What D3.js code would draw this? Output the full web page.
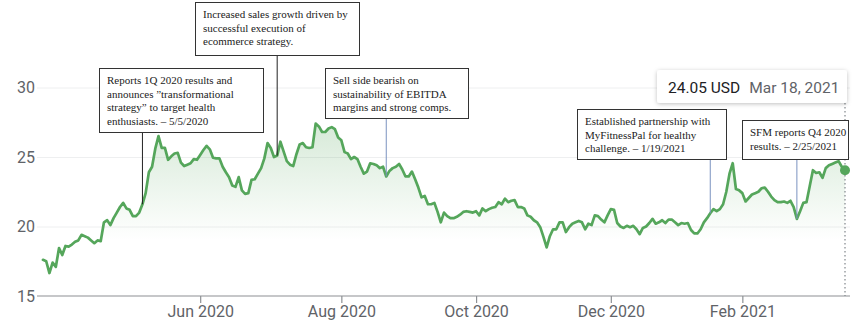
<!DOCTYPE html>
<html>
<head>
<meta charset="utf-8">
<script src="https://cdn.jsdelivr.net/npm/d3@7"></script>
<style>
  html, body { margin: 0; padding: 0; background: #fff; }
  svg { display: block; }
</style>
</head>
<body>
<div class="chart"></div>
<script>
// daily closes, one per trading day, Mar 20 2020 -> Mar 18 2021
var closes = [
  17.6, 17.5, 16.65, 17.4, 17.1, 18.45, 17.95, 18.6, 18.55, 18.7,
  18.9, 19.0, 19.4, 19.3, 19.2, 19.0, 18.8, 19.0, 18.95, 20.3,
  20.45, 20.1, 20.6, 21.0, 21.4, 21.7, 21.3, 21.2, 20.75, 20.75,
  21.0, 21.6, 22.4, 23.9, 24.3, 25.6, 26.5, 25.65, 25.65, 24.8,
  25.05, 25.25, 25.3, 24.6, 24.35, 24.45, 24.55, 24.85, 24.8, 25.15,
  25.5, 25.8, 25.55, 24.95, 24.9, 24.9, 24.3, 23.9, 23.55, 22.95,
  22.85, 23.55, 22.6, 22.35, 22.4, 23.35, 23.4, 23.8, 24.2, 24.9,
  26.0, 25.65, 25.0, 25.1, 26.1, 25.4, 24.7, 24.45, 24.35, 25.2,
  25.9, 26.0, 25.7, 25.65, 25.7, 27.4, 27.2, 26.8, 26.8, 27.05,
  27.15, 27.0, 26.4, 26.2, 25.35, 25.25, 24.85, 25.0, 24.85, 24.3,
  23.8, 23.95, 24.55, 24.5, 24.4, 24.2, 24.3, 23.6, 24.0, 24.2,
  24.3, 24.5, 24.1, 23.6, 23.6, 23.95, 23.4, 22.8, 22.1, 22.2,
  21.6, 21.6, 21.7, 21.05, 20.3, 21.0, 20.75, 20.6, 20.6, 20.7,
  20.85, 21.05, 21.1, 21.05, 21.0, 21.1, 20.8, 21.3, 21.1, 21.25,
  21.35, 21.4, 21.75, 21.6, 22.0, 21.75, 21.85, 21.9, 21.4, 21.4,
  21.3, 20.8, 20.7, 20.45, 20.3, 19.95, 19.25, 18.5, 19.3, 19.8,
  19.8, 20.3, 20.3, 19.6, 19.95, 20.2, 20.3, 20.4, 20.3, 19.8,
  20.2, 20.1, 20.8, 20.75, 20.5, 20.3, 20.8, 21.25, 21.2, 20.25,
  20.0, 19.9, 20.05, 19.95, 20.05, 19.8, 19.45, 19.9, 20.0, 20.25,
  20.55, 20.2, 20.3, 20.45, 20.25, 20.5, 20.5, 20.3, 20.1, 20.25,
  20.2, 20.25, 19.75, 19.5, 19.5, 19.8, 20.3, 20.6, 20.95, 21.25,
  21.1, 21.25, 21.6, 22.5, 23.8, 24.55, 22.7, 22.6, 22.4, 21.8,
  22.05, 22.3, 22.4, 22.5, 22.75, 22.8, 22.5, 22.15, 21.9, 21.75,
  21.75, 21.8, 21.7, 21.85, 21.4, 20.55, 21.1, 21.7, 21.75, 22.9,
  24.05, 23.85, 23.9, 23.5, 24.2, 24.4, 24.5, 24.6, 24.7, 24.3,
  24.05
];

var yTicks = [15, 20, 25, 30];
var monthTickIndex = [49, 93, 135, 177, 218];
var monthTickLabels = ["Jun 2020", "Aug 2020", "Oct 2020", "Dec 2020", "Feb 2021"];

var lastLabel = "Mar 18, 2021";
var currency = "USD";

// annotation boxes: trading-day index they point at, box corner, text lines
var notes = [
  { idx: 31, left: 99, top: 68, w: 164, h: 64, dark: true,
    lines: ["Reports 1Q 2020 results and", "announces \u201dtransformational", "strategy\u201d to target health", "enthusiasts. \u2013 5/5/2020"] },
  { idx: 73, left: 195, top: 2, w: 164, h: 53, dark: true,
    lines: ["Increased sales growth driven by", "successful execution of", "ecommerce strategy."] },
  { idx: 107, left: 325, top: 68, w: 143, h: 50, dark: false,
    lines: ["Sell side bearish on", "sustainability of EBITDA", "margins and strong comps."] },
  { idx: 208, left: 577, top: 109, w: 149, h: 50, dark: false,
    lines: ["Established partnership with", "MyFitnessPal for healthy", "challenge. \u2013 1/19/2021"] },
  { idx: 235, left: 742, top: 120, w: 106, h: 39, dark: false,
    lines: ["SFM reports Q4 2020", "results. \u2013 2/25/2021"] }
];

var W = 865, H = 322;
var green = "#55a65b";

var svg = d3.select(".chart").append("svg")
  .attr("width", W)
  .attr("height", H);

var x = d3.scaleLinear().domain([0, closes.length - 1]).range([43, 845]);
var y = d3.scaleLinear().domain([15, 30]).range([296, 87.5]);

var defs = svg.append("defs");
var grad = defs.append("linearGradient")
  .attr("id", "fillGrad")
  .attr("gradientUnits", "userSpaceOnUse")
  .attr("x1", 0).attr("x2", 0)
  .attr("y1", y(27.5)).attr("y2", y(19));
grad.append("stop").attr("offset", 0).attr("stop-color", green).attr("stop-opacity", 0.24);
grad.append("stop").attr("offset", 1).attr("stop-color", green).attr("stop-opacity", 0);

var shadow = defs.append("filter").attr("id", "shadow")
  .attr("x", "-10%").attr("y", "-30%").attr("width", "120%").attr("height", "170%");
shadow.append("feDropShadow")
  .attr("dx", 0).attr("dy", 1).attr("stdDeviation", 2)
  .attr("flood-color", "#000").attr("flood-opacity", 0.25);

// grid lines
svg.append("g")
  .attr("transform", "translate(37,0)")
  .call(d3.axisLeft(y).tickValues([20, 25, 30]).tickSize(-(850 - 37)).tickFormat(""))
  .call(g => g.select(".domain").remove())
  .call(g => g.selectAll("line").attr("stroke", "#eeeff0"));

// y labels
svg.append("g")
  .attr("transform", "translate(37,0)")
  .call(d3.axisLeft(y).tickValues(yTicks).tickSize(0).tickPadding(2))
  .call(g => g.select(".domain").remove())
  .call(g => g.selectAll("text")
    .attr("fill", "#5f6368")
    .style("font-family", "Roboto, Arial, sans-serif")
    .style("font-size", "16px"));

// area + line
var area = d3.area()
  .x((d, i) => x(i))
  .y0(y(15))
  .y1(d => y(d));
svg.append("path")
  .datum(closes)
  .attr("fill", "url(#fillGrad)")
  .attr("d", area);

var line = d3.line()
  .x((d, i) => x(i))
  .y(d => y(d));
svg.append("path")
  .datum(closes)
  .attr("fill", "none")
  .attr("stroke", green)
  .attr("stroke-width", 2.7)
  .attr("stroke-linejoin", "round")
  .attr("stroke-linecap", "round")
  .attr("d", line);

// x axis
var xAxis = svg.append("g")
  .attr("transform", `translate(0,${y(15)})`)
  .call(d3.axisBottom(x).tickValues(monthTickIndex)
    .tickFormat((d, i) => monthTickLabels[i])
    .tickSize(7).tickPadding(3).tickSizeOuter(0));
xAxis.select(".domain").remove();
xAxis.append("line")
  .attr("x1", 37).attr("x2", 850)
  .attr("stroke", "#8d9094").attr("stroke-width", 1.2);
xAxis.selectAll(".tick line").attr("stroke", "#8d9094").attr("stroke-width", 1.2);
xAxis.selectAll("text")
  .attr("fill", "#5f6368")
  .style("font-family", "Roboto, Arial, sans-serif")
  .style("font-size", "16px");

// hover marker at last point
var last = closes.length - 1;
svg.append("line")
  .attr("x1", x(last)).attr("x2", x(last))
  .attr("y1", 103).attr("y2", y(15))
  .attr("stroke", "#80868b")
  .attr("stroke-width", 1.2)
  .attr("stroke-dasharray", "1.5,2.5");

// annotations
var ann = svg.append("g").attr("class", "notes");
notes.forEach(function (n) {
  ann.append("line")
    .attr("x1", x(n.idx)).attr("x2", x(n.idx))
    .attr("y1", n.top + n.h)
    .attr("y2", y(closes[n.idx]))
    .attr("stroke", n.dark ? "#222" : "#7b93c0")
    .attr("stroke-width", 1);
  ann.append("rect")
    .attr("x", n.left + 0.5).attr("y", n.top + 0.5)
    .attr("width", n.w).attr("height", n.h)
    .attr("fill", "#fff")
    .attr("stroke", "#333")
    .attr("stroke-width", 1);
  var t = ann.append("text")
    .attr("x", n.left + 8)
    .attr("y", n.top + 16)
    .attr("fill", "#222")
    .style("font-family", "'Liberation Serif', 'DejaVu Serif', serif")
    .style("font-size", "11px");
  n.lines.forEach(function (l, i) {
    t.append("tspan").attr("x", n.left + 8).attr("dy", i == 0 ? 0 : 13.6).text(l);
  });
});

svg.append("circle")
  .attr("cx", x(last)).attr("cy", y(closes[last]))
  .attr("r", 5)
  .attr("fill", green);

// tooltip box
var tip = svg.append("g").attr("transform", "translate(657,70)");
tip.append("rect")
  .attr("width", 190).attr("height", 33)
  .attr("rx", 3)
  .attr("fill", "#fff")
  .attr("filter", "url(#shadow)");
var tt = tip.append("text")
  .attr("x", 11).attr("y", 22.5)
  .style("font-family", "Roboto, Arial, sans-serif")
  .style("font-size", "15.5px");
tt.append("tspan").attr("fill", "#202124").text(d3.format(".2f")(closes[last]) + " " + currency);
tt.append("tspan").attr("dx", 9).attr("fill", "#5f6368").text(lastLabel);
</script>
</body>
</html>
